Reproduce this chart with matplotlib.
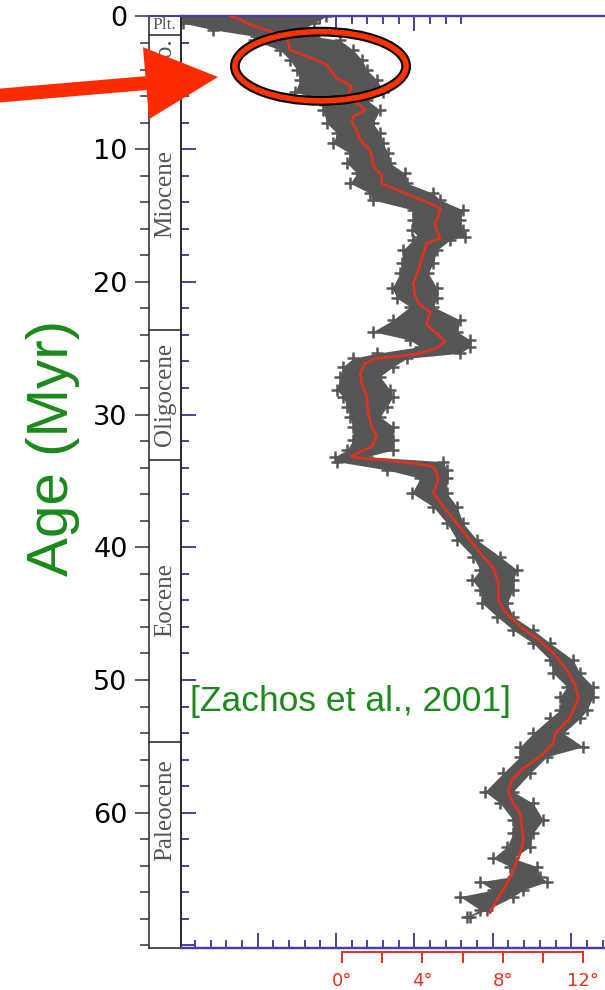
import matplotlib
matplotlib.use('Agg')
import matplotlib.pyplot as plt
import numpy as np
from matplotlib.patches import Ellipse
from matplotlib.ticker import FixedLocator, MultipleLocator, NullFormatter, FuncFormatter

# ---------------- data ----------------
curve_age = [0.0, 0.14, 0.51, 1.02, 1.52, 2.52, 2.90, 3.28, 3.65, 4.16, 4.66, 5.03, 5.29, 6.17,
             6.67, 7.05, 7.55, 7.93, 8.55, 9.31, 10.06, 10.56, 11.30, 11.94, 12.57, 13.07, 13.58,
             14.08, 14.46, 15.09, 15.59, 16.09, 16.71, 17.09, 17.85, 19.10, 20.10, 21.10, 21.74,
             22.24, 22.74, 23.25, 23.87, 24.50, 25.00, 25.38, 25.63, 25.76, 26.14, 26.89, 27.64,
             28.65, 29.90, 30.90, 31.66, 32.42, 32.80, 33.17, 33.30, 33.42, 33.67, 33.92, 34.42,
             34.93, 35.93, 36.94, 38.19, 39.45, 40.58, 41.58, 42.71, 43.97, 44.85, 45.98, 46.86,
             47.99, 49.25, 50.38, 51.38, 52.26, 53.01, 54.02, 54.77, 55.78, 56.65, 57.54, 58.42,
             59.29, 60.05, 61.05, 62.06, 63.06, 64.32, 65.58, 66.58, 67.54]
curve_temp = [-5.57, -5.16, -4.74, -3.75, -2.75, -2.59, -1.92, -1.26, -0.76, -0.51, -0.26, 0.23,
              0.48, 0.23, 0.90, 1.14, 0.56, 0.48, 0.73, 0.90, 1.39, 1.48, 1.56, 1.97, 1.97, 2.72,
              3.55, 4.38, 4.88, 4.79, 4.63, 4.71, 4.88, 4.21, 4.05, 3.80, 3.55, 3.63, 3.88, 4.38,
              4.29, 4.21, 4.71, 5.12, 4.71, 3.88, 2.72, 1.72, 1.14, 0.90, 0.98, 1.23, 1.31, 1.48,
              1.72, 1.48, 0.90, 0.48, 1.06, 2.22, 3.55, 4.54, 4.71, 4.79, 4.54, 5.04, 5.71, 6.37,
              6.95, 7.53, 7.78, 7.78, 8.11, 8.86, 9.69, 10.51, 11.18, 11.59, 11.76, 11.51, 11.26,
              10.60, 10.51, 9.85, 9.02, 8.44, 8.27, 8.52, 8.86, 8.94, 9.02, 8.86, 8.52, 8.11,
              7.70, 7.36]

band_age = [0.0, 0.5, 1.0, 1.5, 1.8, 2.52, 3.28, 4.03, 4.79, 5.67, 6.29, 7.05, 8.05, 8.8, 9.56,
            10.31, 11.06, 11.82, 12.57, 13.32, 13.83, 14.58, 15.34, 16.09, 16.59, 16.84, 17.6,
            18.6, 19.35, 20.48, 21.24, 21.87, 22.87, 23.75, 24.38, 24.88, 25.38, 25.76, 26.39,
            27.14, 28.15, 28.65, 29.4, 30.16, 30.91, 31.91, 32.67, 33.17, 33.55, 34.17, 34.8,
            35.93, 36.94, 38.19, 39.45, 40.71, 41.71, 42.46, 43.22, 44.22, 45.23, 46.23, 47.23,
            48.49, 49.5, 50.5, 51.26, 52.26, 52.89, 54.02, 55.03, 55.78, 57.03, 58.42, 59.29,
            60.55, 61.55, 62.56, 63.44, 64.07, 64.82, 65.2, 65.83, 66.33, 67.33, 67.83]
band_left = [-8.0, -7.9, -6.4, -4.3, -4.4, -3.08, -2.59, -2.24, -2.09, -2.34, -1.09, -0.95, -0.75,
             -0.25, -0.45, 0.40, 0.25, 0.75, 0.40, 1.39, 1.54, 3.53, 3.53, 3.48, 3.78, 3.53, 3.03,
             2.99, 2.89, 2.49, 2.74, 3.38, 2.54, 1.54, 3.38, 3.88, 1.74, 0.55, 0.05, -0.10, -0.25,
             0.05, 0.25, 0.40, 0.55, 0.55, 0.25, -0.35, -0.25, 2.24, 3.88, 3.48, 4.53, 5.22, 5.72,
             6.52, 6.87, 6.47, 6.87, 6.97, 7.71, 8.51, 9.50, 10.35, 10.50, 11.19, 10.85, 10.85,
             10.35, 9.50, 8.86, 8.86, 8.01, 7.11, 7.86, 8.51, 8.51, 8.21, 7.51, 8.36, 8.51, 6.87,
             7.51, 5.87, 6.87, 6.22]
band_right = [-0.8, -1.4, -2.0, -1.4, -0.1, 0.55, 1.0, 1.24, 1.74, 2.04, 1.24, 1.89, 1.54, 1.89,
              2.04, 2.29, 2.39, 3.13, 3.23, 4.53, 4.88, 6.02, 5.87, 6.02, 6.12, 5.37, 4.73, 4.53,
              4.28, 4.73, 4.73, 4.53, 5.87, 5.72, 6.37, 6.37, 5.87, 3.23, 2.54, 1.89, 2.39, 2.54,
              2.24, 1.89, 2.54, 2.54, 2.54, 1.24, 5.02, 5.22, 5.22, 5.22, 5.72, 6.02, 6.72, 7.86,
              8.71, 8.51, 8.51, 8.21, 8.51, 9.50, 10.35, 11.49, 11.84, 12.49, 12.49, 12.19, 11.84,
              11.00, 11.99, 10.20, 9.35, 8.51, 9.50, 10.00, 9.50, 9.35, 8.51, 9.70, 9.85, 10.20,
              9.00, 8.51, 7.21, 6.37]

epoch_names = ['Plio.', 'Miocene', 'Oligocene', 'Eocene', 'Paleocene']
epoch_label_age = [3.4, 13.4, 28.5, 44.0, 59.8]
epoch_bounds = [1.4, 5.3, 23.6, 33.45, 54.7]
top_epoch = 'Plt.'
top_epoch_age = 0.62

age_ticks = [0, 10, 20, 30, 40, 50, 60]
temp_ticks = [0, 4, 8, 12]
temp_minor = [2, 6, 10]
d18o_major_bottom = [5, 4, 3, 2, 1]
d18o_major_top = [5, 4, 3]

# ---------------- styling ----------------
W, H = 605, 990
BLUE = '#4a3f9f'
RED_LINE = '#e2311d'
RED_AX = '#e8301c'
GRAY = '#565656'
GREEN = '#1a8a1a'
ARROW_RED = '#ff2b00'
SERIF = ['Liberation Serif', 'DejaVu Serif']
SANS = ['Liberation Sans', 'DejaVu Sans']

fig = plt.figure(figsize=(W / 100, H / 100), dpi=100)

y_top_px, y_bot_px = 16.5, 948
x_col_px, x_ax_px = 148.5, 181
bottom = 1 - y_bot_px / H
height = (y_bot_px - y_top_px) / H

AGE_MAX = 70.2
T_MIN, T_MAX = -8.01, 13.08

ax_col = fig.add_axes([x_col_px / W, bottom, (x_ax_px - x_col_px) / W, height])
ax = fig.add_axes([x_ax_px / W, bottom, 1 - x_ax_px / W, height])

# ---- epoch column ----
ax_col.set_xlim(0, 1)
ax_col.set_ylim(AGE_MAX, 0)
ax_col.set_xticks([])
ax_col.yaxis.set_major_locator(FixedLocator(age_ticks))
ax_col.yaxis.set_minor_locator(MultipleLocator(2))
ax_col.tick_params(axis='y', which='major', direction='out', length=10, width=1.1,
                   color='#333333', labelsize=19.5, pad=5, labelcolor='black')
ax_col.tick_params(axis='y', which='minor', direction='out', length=6.5, width=1.1,
                   color='#333333')
for lab in ax_col.get_yticklabels():
    lab.set_fontfamily('DejaVu Sans')
for s in ['left', 'bottom', 'right']:
    ax_col.spines[s].set_color('#222222')
    ax_col.spines[s].set_linewidth(1.1)
ax_col.spines['top'].set_color(BLUE)
ax_col.spines['top'].set_linewidth(1.5)
ax_col.hlines(epoch_bounds, 0, 1, colors='#222222', lw=1.1)
for name, a in zip(epoch_names, epoch_label_age):
    ax_col.text(0.52, a, name, rotation=90, ha='center', va='center', fontsize=18,
                color='#555555', family=SERIF)
ax_col.text(0.5, top_epoch_age, top_epoch, ha='center', va='center', fontsize=12.5,
            color='#555555', family=SERIF)

# ---- main axes ----
ax.set_xlim(T_MIN, T_MAX)
ax.set_ylim(AGE_MAX, 0)
ax.patch.set_alpha(0)
ax.spines['right'].set_visible(False)
ax.spines['left'].set_color('#222222')
ax.spines['left'].set_linewidth(1.1)
for s in ['top', 'bottom']:
    ax.spines[s].set_color(BLUE)
    ax.spines[s].set_linewidth(1.6)
ax.set_xticks([])
ax.yaxis.set_major_locator(MultipleLocator(10))
ax.yaxis.set_minor_locator(MultipleLocator(2))
ax.tick_params(axis='y', which='major', direction='in', length=10.8, width=1.4, color=BLUE,
               labelleft=False)
ax.tick_params(axis='y', which='minor', direction='in', length=5.8, width=1.4, color=BLUE)

# data cloud and smoothed curve
ax.fill_betweenx(band_age, band_left, band_right, color=GRAY, lw=0, zorder=2)
ax.plot(band_left, band_age, ls='none', marker='+', ms=8, mew=1.8, color=GRAY, zorder=2)
ax.plot(band_right, band_age, ls='none', marker='+', ms=8, mew=1.8, color=GRAY, zorder=2)
ax.plot(curve_temp, curve_age, color=RED_LINE, lw=1.9, zorder=4, solid_joinstyle='round')

# d18O tick scales (blue)
def fwd(t):
    return (15.3 - np.asarray(t)) / 3.9


def inv(d):
    return 15.3 - 3.9 * np.asarray(d)


minor_all = list(np.round(np.arange(5.8, 0.5, -0.2), 1))
minor_top = [d for d in minor_all if d >= 2.39]

sec_top = ax.secondary_xaxis('top', functions=(fwd, inv))
sec_top.xaxis.set_major_locator(FixedLocator(d18o_major_top))
sec_top.xaxis.set_minor_locator(FixedLocator(minor_top))
sec_top.xaxis.set_major_formatter(NullFormatter())
sec_top.tick_params(which='major', direction='in', length=10.8, width=1.4, color=BLUE)
sec_top.tick_params(which='minor', direction='in', length=5.8, width=1.4, color=BLUE)
sec_top.spines['top'].set_color(BLUE)
sec_top.spines['top'].set_linewidth(1.6)

sec_bot = ax.secondary_xaxis('bottom', functions=(fwd, inv))
sec_bot.xaxis.set_major_locator(FixedLocator(d18o_major_bottom))
sec_bot.xaxis.set_minor_locator(FixedLocator(minor_all))
sec_bot.xaxis.set_major_formatter(NullFormatter())
sec_bot.tick_params(which='major', direction='in', length=10.8, width=1.4, color=BLUE)
sec_bot.tick_params(which='minor', direction='in', length=5.8, width=1.4, color=BLUE)
sec_bot.spines['bottom'].set_color(BLUE)
sec_bot.spines['bottom'].set_linewidth(1.6)

# temperature scale (red)
sec_T = ax.secondary_xaxis(-0.0043)
sec_T.xaxis.set_major_locator(FixedLocator(temp_ticks))
sec_T.xaxis.set_minor_locator(FixedLocator(temp_minor))
sec_T.xaxis.set_major_formatter(FuncFormatter(lambda v, p: f'{v:.0f}°'))
sec_T.tick_params(which='major', direction='out', length=8, width=1.4, color=RED_AX,
                  labelcolor=RED_AX, labelsize=13, pad=6.5)
sec_T.tick_params(which='minor', direction='out', length=8, width=1.4, color=RED_AX)
sec_T.spines['bottom'].set_color(RED_AX)
sec_T.spines['bottom'].set_linewidth(1.4)
sec_T.spines['bottom'].set_bounds(0, 12)

# highlight ellipse
ax.add_patch(Ellipse((-1.07, 3.75), 8.52, 5.22, fill=False, ec='black', lw=7, zorder=6))
ax.add_patch(Ellipse((-1.07, 3.75), 8.52, 5.22, fill=False, ec='#ff3300', lw=4, zorder=7))

# arrow
ax.annotate('', xy=(-6.17, 4.56), xycoords='data', xytext=(-20, H - 97.2),
            textcoords='figure pixels', annotation_clip=False, zorder=20,
            arrowprops=dict(arrowstyle='simple,head_length=5.2,head_width=5.2,tail_width=1.0',
                            mutation_scale=10, fc=ARROW_RED, ec='none', shrinkA=0, shrinkB=0))

# texts
fig.text(53 / W, 1 - 448 / H, 'Age (Myr)', rotation=90, ha='center', va='center',
         fontsize=42, color=GREEN, family=SANS)
fig.text(190 / W, 1 - 702 / H, '[Zachos et al., 2001]', ha='left', va='center',
         fontsize=25.5, color=GREEN, family=SANS)

fig.savefig('out.png', dpi=100)
